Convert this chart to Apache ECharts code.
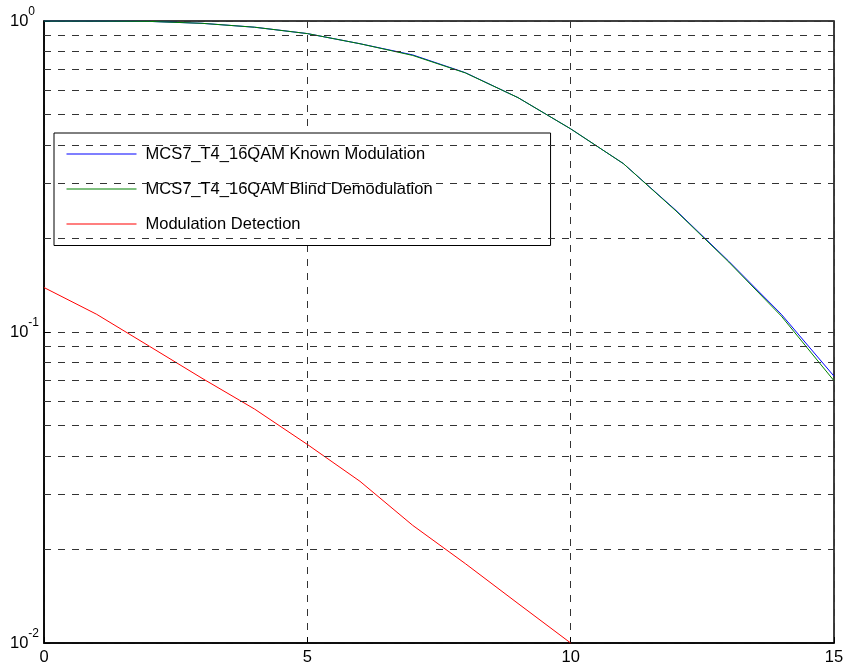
<!DOCTYPE html>
<html><head><meta charset="utf-8">
<script src="https://cdn.jsdelivr.net/npm/echarts@6/dist/echarts.min.js"></script>
<style>html,body{margin:0;padding:0;background:#fff}#c{width:847px;height:670px}</style>
</head><body><div id="c"></div>
<script>
// ---- data ----
const xValues = [0, 1, 2, 3, 4, 5, 6, 7, 8, 9, 10, 11, 12, 13, 14, 15];
const knownModulation = [1.0, 1.0, 0.997, 0.983, 0.955, 0.911, 0.845, 0.778, 0.682, 0.567, 0.450, 0.348, 0.246, 0.169, 0.114, 0.0721];
const blindDemodulation = [1.0, 1.0, 0.997, 0.983, 0.955, 0.911, 0.845, 0.775, 0.681, 0.567, 0.450, 0.348, 0.245, 0.168, 0.1125, 0.0697];
const detectionX = [0, 1, 2, 3, 4, 5, 6, 7, 8, 9, 10];
const modulationDetection = [0.139, 0.114, 0.090, 0.071, 0.0565, 0.0435, 0.0331, 0.0239, 0.0180, 0.0134, 0.0100];
const seriesNames = ['MCS7_T4_16QAM Known Modulation', 'MCS7_T4_16QAM Blind Demodulation', 'Modulation Detection'];
const minorGridValues = [0.02, 0.03, 0.04, 0.05, 0.06, 0.07, 0.08, 0.09, 0.2, 0.3, 0.4, 0.5, 0.6, 0.7, 0.8, 0.9];
const xTickInterval = 5;

const FONT = '"Liberation Sans", Arial, Helvetica, sans-serif';
const gridDash = { color: '#333', width: 1, type: [7, 7] };

const chart = echarts.init(document.getElementById('c'), null, { renderer: 'canvas' });
const option = {
  animation: false,
  backgroundColor: '#fff',
  grid: { left: 44, top: 21, width: 790, height: 622, show: true, borderColor: '#000', borderWidth: 1.5 },
  legend: {
    data: seriesNames,
    orient: 'vertical',
    left: 54, top: 133,
    icon: 'rect',
    itemWidth: 70, itemHeight: 1,
    itemGap: 18,
    padding: [12.5, 118, 13, 12.5],
    backgroundColor: '#fff',
    borderColor: '#000', borderWidth: 1,
    textStyle: { color: '#000', fontSize: 16.5, fontFamily: FONT, lineHeight: 16, padding: [0, 0, 0, 4] }
  },
  xAxis: {
    type: 'value', min: 0, max: 15, interval: xTickInterval,
    axisLine: { lineStyle: { color: '#000', width: 1.5 } },
    axisTick: { inside: true, length: 6, lineStyle: { color: '#000' } },
    axisLabel: { color: '#000', fontSize: 16.5, fontFamily: FONT, margin: 6 },
    splitLine: { show: true, lineStyle: gridDash }
  },
  yAxis: {
    type: 'log', logBase: 10, min: 0.01, max: 1,
    axisLine: { show: true, lineStyle: { color: '#000', width: 1.5 } },
    axisTick: { show: true, inside: true, length: 6, lineStyle: { color: '#000' } },
    axisLabel: {
      align: 'left', margin: 34,
      formatter: function (v) { const e = Math.round(Math.log10(v)); return '{b|10}{s|' + e + '}'; },
      rich: {
        b: { fontSize: 16.5, fontFamily: FONT, color: '#000' },
        s: { fontSize: 12, fontFamily: FONT, color: '#000', padding: [0, 0, 18, 0] }
      }
    },
    splitLine: { show: true, lineStyle: gridDash }
  },
  series: [
    {
      type: 'line', name: '__grid', data: [], silent: true,
      markLine: { silent: true, symbol: 'none', animation: false, label: { show: false }, lineStyle: gridDash,
        data: minorGridValues.map(v => ({ yAxis: v })) }
    },
    { type: 'line', name: seriesNames[0], color: '#0000ff', showSymbol: false, symbol: 'none',
      lineStyle: { width: 1, color: '#0000ff' }, data: xValues.map((x, i) => [x, knownModulation[i]]) },
    { type: 'line', name: seriesNames[1], color: '#008000', showSymbol: false, symbol: 'none',
      lineStyle: { width: 1, color: '#008000' }, data: xValues.map((x, i) => [x, blindDemodulation[i]]) },
    { type: 'line', name: seriesNames[2], color: '#ff0000', showSymbol: false, symbol: 'none',
      lineStyle: { width: 1, color: '#ff0000' }, data: detectionX.map((x, i) => [x, modulationDetection[i]]) }
  ]
};
chart.setOption(option);
</script></body></html>
